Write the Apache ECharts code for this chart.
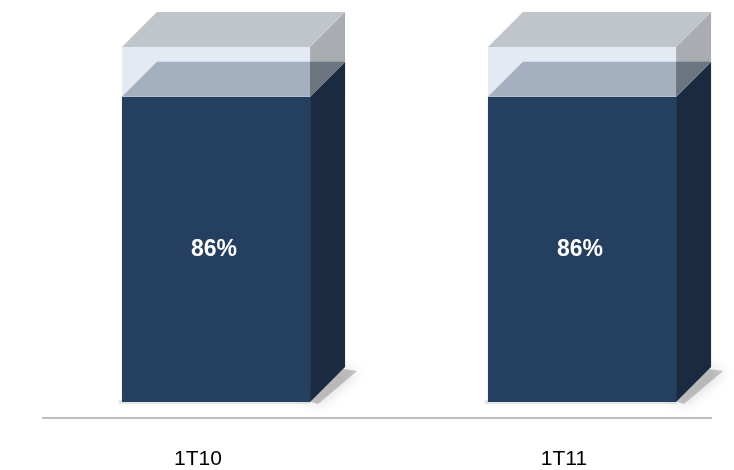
<!DOCTYPE html>
<html>
<head>
<meta charset="utf-8">
<script src="https://cdn.jsdelivr.net/npm/echarts@6/dist/echarts.min.js"></script>
<style>
html,body{margin:0;padding:0;background:#fff;}
#chart{width:734px;height:470px;}
</style>
</head>
<body>
<div id="chart"></div>
<script>
const categories = ['1T10', '1T11'];
const valuesMain = [86, 86];
const valuesRest = [14, 14];
const mainLabels = ['86%', '86%'];

const DX = 35, DY = 35;
const C = {
  front: '#253f60', side: '#1a2a41',
  topIn: '#a4b0c0', topInSide: '#6c7480',
  lFront: '#e4eaf4', lSide: '#a9adb2', lTop: '#c0c4cb'
};

function renderItem(params, api) {
  const idx = api.value(0);
  const main = api.value(1);
  const rest = api.value(2);
  const band = Math.abs(api.coord([1, 0])[0] - api.coord([0, 0])[0]);
  const w = band * 0.514;
  const p0 = api.coord([idx, 0]);
  const p1 = api.coord([idx, main]);
  const p2 = api.coord([idx, main + rest]);
  const x0 = p0[0] - w / 2, x1 = p0[0] + w / 2;
  const yB = p0[1], yM = p1[1], yT = p2[1];
  const poly = (pts, style) => ({
    type: 'polygon', shape: { points: pts }, style: typeof style === 'string' ? { fill: style } : style
  });
  const children = [
    // ground shadow
    poly([[x1 - 2, yB - 1], [x1 + DX - 2, yB - DY + 2], [x1 + DX + 12, yB - DY + 4], [x1 + 8, yB + 2]],
      { fill: 'rgba(100,100,100,0.35)', shadowBlur: 14, shadowColor: 'rgba(0,0,0,0.55)' }),
    poly([[x0 - 3, yB - 2], [x1, yB - 2], [x1, yB + 2], [x0 - 3, yB + 2]],
      { fill: 'rgba(140,140,140,0.2)', shadowBlur: 6, shadowColor: 'rgba(0,0,0,0.3)' }),
    // dark block
    poly([[x0, yB], [x1, yB], [x1, yM], [x0, yM]], C.front),
    poly([[x1, yB], [x1 + DX, yB - DY], [x1 + DX, yM - DY], [x1, yM]], C.side),
    // light block
    poly([[x0, yM], [x1, yM], [x1, yT], [x0, yT]], C.lFront),
    poly([[x1, yM], [x1 + DX, yM - DY], [x1 + DX, yT - DY], [x1, yT]], C.lSide),
    poly([[x0, yT], [x1, yT], [x1 + DX, yT - DY], [x0 + DX, yT - DY]], C.lTop),
    // dark top face seen through light block
    poly([[x0, yM], [x1, yM], [x1, yM - DY], [x0 + DX, yM - DY]], C.topIn),
    poly([[x1, yM], [x1 + DX, yM - DY], [x1, yM - DY]], C.topInSide),
    {
      type: 'text',
      style: {
        text: mainLabels[params.dataIndex],
        x: (x0 + x1) / 2 - 2, y: (yB + yM) / 2,
        align: 'center', verticalAlign: 'middle',
        fill: '#ffffff', font: 'bold 23px "Liberation Sans", Arial, sans-serif'
      }
    }
  ];
  return { type: 'group', children: children };
}

const data = categories.map((c, i) => [i, valuesMain[i], valuesRest[i]]);

const chart = echarts.init(document.getElementById('chart'), null, { renderer: 'canvas' });
chart.setOption({
  animation: false,
  backgroundColor: '#ffffff',
  grid: { left: 216, right: 152, top: 47, bottom: 68, containLabel: false },
  xAxis: {
    type: 'category',
    data: categories,
    boundaryGap: false,
    axisLine: { show: false },
    axisTick: { show: false },
    axisLabel: {
      margin: 47,
      padding: [0, 36, 0, 0],
      color: '#000000',
      fontSize: 21,
      fontFamily: '"Liberation Sans", Arial, sans-serif'
    }
  },
  yAxis: { type: 'value', min: 0, max: 100, show: false },
  graphic: [{
    type: 'line',
    shape: { x1: 42, y1: 418, x2: 712, y2: 418 },
    style: { stroke: '#bdbdbd', lineWidth: 2 }
  }],
  series: [{
    type: 'custom',
    renderItem: renderItem,
    encode: { x: 0, y: [1, 2] },
    data: data,
    clip: false
  }]
});
</script>
</body>
</html>
